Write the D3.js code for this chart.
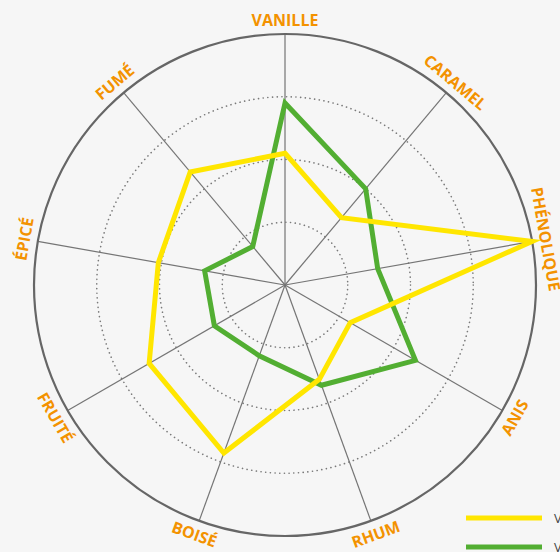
<!DOCTYPE html>
<html>
<head>
<meta charset="utf-8">
<script src="https://cdn.jsdelivr.net/npm/d3@7"></script>
<style>
  html, body { margin: 0; padding: 0; background: #f6f6f6; }
  svg { display: block; }
</style>
</head>
<body>
<svg id="chart" width="560" height="552"></svg>
<script>
// 轴名称
var axes = ['VANILLE', 'CARAMEL', 'PHÉNOLIQUE', 'ANIS', 'RHUM', 'BOISÉ', 'FRUITÉ', 'ÉPICÉ', 'FUMÉ'];
// 两组数值 (0 - 4)
var yellowValues = [2.1, 1.4, 4.0, 1.2, 1.6, 2.85, 2.5, 2.05, 2.35];
var greenValues = [2.9, 2.0, 1.5, 2.4, 1.7, 1.2, 1.3, 1.3, 0.8];
var ringLevels = [1, 2, 3];
var maxValue = 4;
var legendLabels = ['Version 1', 'Version 2'];

function Radar(svg) {
	this.svg = svg;
	this.opt = {
		width: 560,
		height: 552,
		cx: 285,
		cy: 285,
		radius: 251,
		labelRadius: 265,
		labelColor: '#f39200',
		labelSize: 16,
		axisColor: '#757575',
		borderColor: '#666',
		colors: ['#ffe600', '#52ae32']
	};
}

Radar.prototype = {
	render: function () {
		var o = this.opt;
		var me = this;
		this.r = d3.scaleLinear().domain([0, maxValue]).range([0, o.radius]);
		this.angle = d3.scalePoint().domain(d3.range(axes.length + 1)).range([0, 2 * Math.PI]);

		// 背景
		this.svg.append('rect')
			.attr('width', o.width)
			.attr('height', o.height)
			.attr('fill', '#f6f6f6');

		this.g = this.svg.append('g')
			.attr('transform', 'translate(' + o.cx + ',' + o.cy + ')')
			.attr('font-family', '"Open Sans", "DejaVu Sans", sans-serif');

		this.renderGrid();
		this.renderSeries();
		this.renderLabels();
		this.renderLegend();
	},

	// 网格: 虚线圆, 外圈, 轴线
	renderGrid: function () {
		var o = this.opt;
		var me = this;
		this.g.selectAll('.ring')
			.data(ringLevels)
			.enter()
			.append('circle')
			.attr('r', function (d) { return me.r(d); })
			.attr('fill', 'none')
			.attr('stroke', '#7a7a7a')
			.attr('stroke-width', 1.6)
			.attr('stroke-linecap', 'round')
			.attr('stroke-dasharray', '0.1,4.6');

		this.g.selectAll('.spoke')
			.data(axes)
			.enter()
			.append('line')
			.attr('x1', 0)
			.attr('y1', 0)
			.attr('x2', function (d, i) { return me.r(maxValue) * Math.sin(me.angle(i)); })
			.attr('y2', function (d, i) { return -me.r(maxValue) * Math.cos(me.angle(i)); })
			.attr('stroke', o.axisColor)
			.attr('stroke-width', 1.2);

		this.g.append('circle')
			.attr('r', this.r(maxValue))
			.attr('fill', 'none')
			.attr('stroke', o.borderColor)
			.attr('stroke-width', 2.2);
	},

	// 折线
	renderSeries: function () {
		var o = this.opt;
		var me = this;
		var line = d3.lineRadial()
			.angle(function (d, i) { return me.angle(i); })
			.radius(function (d) { return me.r(d); })
			.curve(d3.curveLinearClosed);

		this.g.selectAll('.series')
			.data([greenValues, yellowValues])
			.enter()
			.append('path')
			.attr('d', line)
			.attr('fill', 'none')
			.attr('stroke', function (d, i) { return i === 0 ? o.colors[1] : o.colors[0]; })
			.attr('stroke-width', 5)
			.attr('stroke-linejoin', 'miter');
	},

	// 轴标签, 沿圆周旋转
	renderLabels: function () {
		var o = this.opt;
		var me = this;
		this.g.selectAll('.label')
			.data(axes)
			.enter()
			.append('text')
			.attr('transform', function (d, i) {
				var a = me.angle(i);
				var deg = a * 180 / Math.PI;
				var x = o.labelRadius * Math.sin(a);
				var y = -o.labelRadius * Math.cos(a);
				var rot = (deg > 90 && deg < 270) ? deg - 180 : deg;
				return 'translate(' + x + ',' + y + ') rotate(' + rot + ')';
			})
			.attr('text-anchor', 'middle')
			.attr('dominant-baseline', 'central')
			.attr('fill', o.labelColor)
			.attr('font-size', o.labelSize)
			.attr('font-weight', 700)
			.text(function (d) { return d; });
	},

	// 图例
	renderLegend: function () {
		var o = this.opt;
		var lg = this.svg.append('g')
			.attr('font-family', '"Open Sans", sans-serif');
		var items = lg.selectAll('g')
			.data(legendLabels)
			.enter()
			.append('g')
			.attr('transform', function (d, i) { return 'translate(466,' + (518 + i * 29) + ')'; });
		items.append('line')
			.attr('x1', 0)
			.attr('x2', 76)
			.attr('stroke', function (d, i) { return o.colors[i]; })
			.attr('stroke-width', 5);
		items.append('text')
			.attr('x', 88)
			.attr('dy', '0.35em')
			.attr('fill', '#444')
			.attr('font-size', 13)
			.text(function (d) { return d; });
	}
};

var chart = new Radar(d3.select('#chart'));
chart.render();
</script>
</body>
</html>
